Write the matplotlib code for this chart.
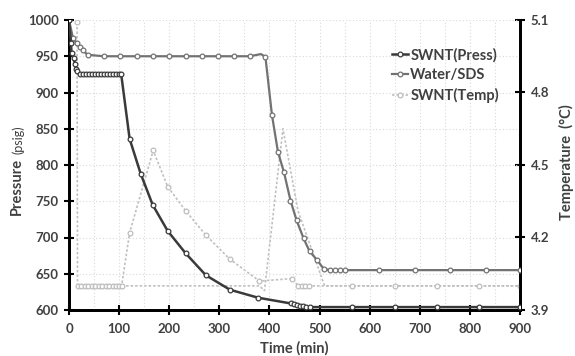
import matplotlib
matplotlib.use("Agg")
import matplotlib.pyplot as plt
from matplotlib.ticker import MultipleLocator

# SWNT pressure (psig) vs time (min)
swnt_t = [0, 4, 5, 9, 12, 14, 16, 21, 27, 33, 39, 45, 51, 57, 63, 69, 75, 81, 87, 93, 99, 104,
          121, 143, 167, 197, 233, 273, 321, 377, 443, 449, 455, 461, 467, 473, 480,
          565, 650, 735, 818, 900]
swnt_p = [1000, 968, 955, 947, 940, 933, 929, 926, 926, 926, 926, 926, 926, 926, 926, 926, 926, 926, 926, 926, 926, 926,
          836, 788, 745, 709, 678, 648, 628, 617, 609, 608, 607, 606, 605, 604, 604,
          604, 604, 604, 604, 604]

# Water/SDS pressure (psig)
water_t = [0, 8, 15, 22, 28, 37, 70, 101, 135, 167, 200, 233, 266, 298, 329, 361, 383, 392,
           405, 417, 429, 442, 454, 468, 480, 495, 508, 520, 530, 540, 550, 618, 691, 761, 832, 900]
water_p = [1000, 975, 968, 963, 958, 952, 950, 950, 950, 950, 950, 950, 950, 950, 950, 950, 953, 949,
           869, 818, 790, 751, 724, 699, 681, 669, 657, 655, 655, 655, 655, 655, 655, 655, 655, 655]

# SWNT temperature (C)
temp_t = [16, 17, 24, 31, 38, 45, 52, 59, 66, 73, 80, 87, 94, 100, 105,
          121, 168, 197, 233, 273, 321, 380, 446, 457, 464, 471, 478, 565, 650, 735, 818, 900]
temp_c = [5.09, 4.0, 4.0, 4.0, 4.0, 4.0, 4.0, 4.0, 4.0, 4.0, 4.0, 4.0, 4.0, 4.0, 4.0,
          4.22, 4.56, 4.41, 4.31, 4.21, 4.11, 4.02, 4.03, 4.0, 4.0, 4.0, 4.0, 4.0, 4.0, 4.0, 4.0, 4.0]
# second temperature trace (no markers)
temp2_t = [105, 380, 390, 427, 457, 510, 900]
temp2_c = [4.0, 4.0, 3.98, 4.65, 4.31, 4.0, 4.0]

x_ticks = [0, 100, 200, 300, 400, 500, 600, 700, 800, 900]
p_ticks = [600, 650, 700, 750, 800, 850, 900, 950, 1000]
t_ticks = [3.9, 4.2, 4.5, 4.8, 5.1]

FONT = "Lato"
TXT = "#404040"
plt.rcParams["font.family"] = [FONT, "DejaVu Sans"]

fig = plt.figure(figsize=(5.75, 3.56), dpi=100)
ax = fig.add_axes([69 / 575, 1 - 310 / 356, (520 - 69) / 575, (310 - 20) / 356])
ax2 = ax.twinx()

# dotted grid
ax.xaxis.set_minor_locator(MultipleLocator(50))
ax.grid(True, which="both", axis="x", color="#d9d9d9", ls=(0, (1, 2)), lw=0.8)
ax.grid(True, which="major", axis="y", color="#d9d9d9", ls=(0, (1, 2)), lw=0.8)
ax.tick_params(axis="x", which="minor", length=0)
ax.set_axisbelow(True)

mk = dict(marker="o", markersize=3.4, markerfacecolor="white", markeredgewidth=0.9)

# temperature on secondary axis
ax2.plot(temp2_t, temp2_c, color="#c0c0c0", lw=1.2, ls=(0, (1.5, 1.2)), zorder=2)
l3, = ax2.plot(temp_t, temp_c, color="#c0c0c0", lw=1.2, ls=(0, (1.5, 1.2)),
               markeredgecolor="#bdbdbd", zorder=3, label="SWNT(Temp)", **mk)

bump = water_t.index(383)
l1, = ax.plot(swnt_t, swnt_p, color="#3a3a3a", lw=1.8, markeredgecolor="#3a3a3a",
              zorder=5, label="SWNT(Press)", **mk)
l2, = ax.plot(water_t, water_p, color="#727272", lw=1.6, markeredgecolor="#727272",
              markevery=[i for i in range(len(water_t)) if i != bump],
              zorder=4, label="Water/SDS", **mk)

# pressure axis drawn above temperature axis
ax.set_zorder(ax2.get_zorder() + 1)
ax.patch.set_visible(False)

ax.set_xlim(0, 900)
ax.set_ylim(600, 1000)
ax2.set_ylim(3.9, 5.1)
ax.set_xticks(x_ticks)
ax.set_yticks(p_ticks)
ax2.set_yticks(t_ticks)
ax2.set_yticklabels([f"{v:.1f}" for v in t_ticks])

for a in (ax, ax2):
    for s in a.spines.values():
        s.set_linewidth(2)
        s.set_color("black")
    a.spines["top"].set_visible(False)
    a.tick_params(which="major", direction="inout", length=7, width=1.5, colors="black",
                  labelcolor=TXT, labelsize=9.5)
    for lab in a.get_xticklabels() + a.get_yticklabels():
        lab.set_fontweight("bold")
ax.tick_params(axis="y", pad=4)
ax2.tick_params(axis="y", pad=4)
ax.tick_params(axis="x", pad=6)

ax.set_xlabel("Time (min)", fontsize=10.5, fontweight="bold", color=TXT, labelpad=4)

# left label with smaller unit
fig.text(17 / 575, 1 - 186 / 356, "Pressure", rotation=90, ha="center", va="center",
         fontsize=10.5, fontweight="bold", color=TXT)
fig.text(18 / 575, 1 - 140 / 356, "(psig)", rotation=90, ha="center", va="center",
         fontsize=9, color=TXT)
fig.text(566 / 575, 1 - 162 / 356, "Temperature  (°C)", rotation=90, ha="center", va="center",
         fontsize=10.5, fontweight="bold", color=TXT)

leg = ax.legend([l1, l2, l3], ["SWNT(Press)", "Water/SDS", "SWNT(Temp)"],
                loc="upper left", bbox_to_anchor=(392 / 575, 1 - 48 / 356),
                bbox_transform=fig.transFigure, frameon=False, handlelength=1.1,
                handletextpad=0.15, borderpad=0, borderaxespad=0, labelspacing=0.4,
                prop={"family": FONT, "weight": "bold", "size": 10.5})
for t in leg.get_texts():
    t.set_color(TXT)

fig.savefig("out.png", dpi=100)
